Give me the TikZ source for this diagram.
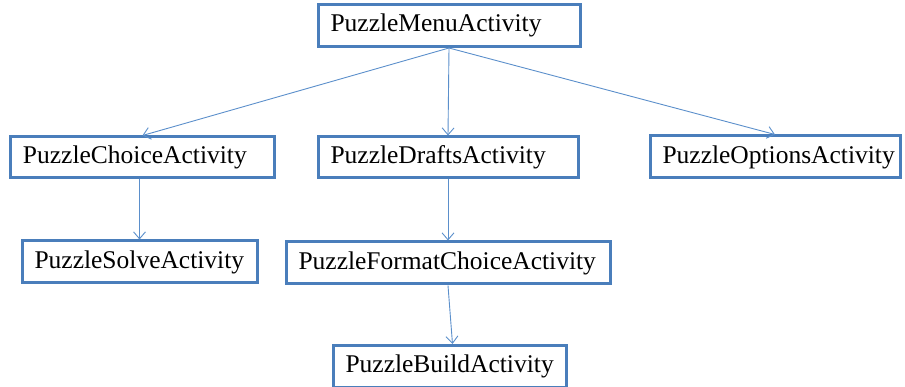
\documentclass[tikz,border=0pt]{standalone}
\usepackage{fontspec}
\setmainfont{Liberation Serif}
\usetikzlibrary{arrows.meta}
\definecolor{boxblue}{HTML}{4A7EBB}
\definecolor{lineblue}{HTML}{5B8FCB}
\tikzset{
  actbox/.style={draw=boxblue, line width=3pt, fill=white, rectangle,
    inner xsep=11pt, inner ysep=0pt, align=left,
    font=\fontsize{25.5}{27}\selectfont},
  conn/.style={draw=lineblue, line width=0.9pt,
    -{Straight Barb[length=7pt,width=12pt,line width=0.9pt]}}
}
\newcommand{\actnode}[6]{%
  \node[actbox, minimum width=#4pt, minimum height=#5pt, text width=#4pt-22pt-3pt] (#1) at (#2pt,-#3pt) {#6};}
\begin{document}
\begin{tikzpicture}[x=1pt,y=1pt]
\useasboundingbox (0,0) rectangle (905,-387);
\actnode{menu}{449}{25.5}{262}{42}{PuzzleMenuActivity}
\actnode{choice}{142.5}{157.5}{264}{41}{PuzzleChoiceActivity}
\actnode{drafts}{448}{157.5}{260}{41}{PuzzleDraftsActivity}
\actnode{options}{775}{157}{250}{42}{PuzzleOptionsActivity}
\actnode{solve}{139.5}{262}{235}{42}{PuzzleSolveActivity}
\actnode{format}{448}{263}{324}{42}{PuzzleFormatChoiceActivity}
\actnode{build}{449.5}{366.5}{233}{42}{PuzzleBuildActivity}
\draw[conn] (menu.south) -- (choice.north);
\draw[conn] (menu.south) -- (drafts.north);
\draw[conn] (menu.south) -- (options.north);
\draw[conn] (choice.south -| solve.north) -- (solve.north);
\draw[conn] (drafts.south) -- (format.north);
\draw[conn] (format.south) -- ([xshift=3pt]build.north);
\end{tikzpicture}
\end{document}
